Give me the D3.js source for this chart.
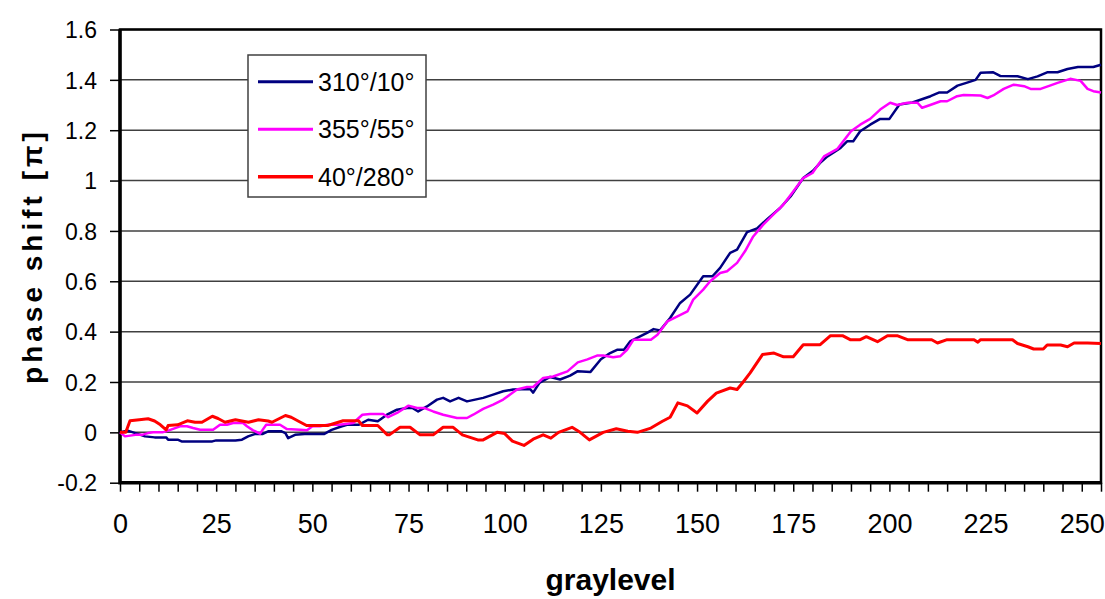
<!DOCTYPE html>
<html>
<head>
<meta charset="utf-8">
<script src="https://cdn.jsdelivr.net/npm/d3@7"></script>
<style>
    body { margin: 0; background: #fff; }
    #chart text { font-family: "Liberation Sans", Arial, sans-serif; fill: #000; }
</style>
</head>
<body>
<div id="chart"></div>
<script>

// graylevel / phase shift [pi] pairs
const series310 = [
    [0, 0], [2, 0.007], [4, -0.003], [6.5, -0.016], [9, -0.02], [12, -0.02], [12.5, -0.029], [15, -0.029],
    [16, -0.036], [24, -0.036], [25, -0.032], [30, -0.032], [31.7, -0.029], [33.3, -0.016], [35, -0.007],
    [37, -0.007], [38.5, 0.004], [42, 0.004], [43, -0.003], [43.7, -0.023], [45.5, -0.01], [48, -0.007],
    [53, -0.007], [55, 0.01], [57.7, 0.024], [59, 0.03], [62, 0.03], [64.5, 0.05], [67, 0.044], [69.4, 0.07],
    [72, 0.09], [74.6, 0.097], [76, 0.097], [77.5, 0.083], [79.8, 0.103], [82.4, 0.13], [84, 0.137],
    [85.8, 0.123], [88, 0.137], [90.2, 0.123], [92.3, 0.13], [94.4, 0.137], [97, 0.15], [99.6, 0.163],
    [102.2, 0.17], [106.6, 0.172], [107.4, 0.158], [109, 0.196], [111.8, 0.22], [114.4, 0.21], [117, 0.225],
    [119, 0.243], [122.3, 0.24], [125, 0.29], [127.4, 0.315], [129.2, 0.328], [131, 0.328], [132.6, 0.361],
    [133.5, 0.368], [137, 0.395], [138.7, 0.41], [140.4, 0.405], [143, 0.454], [145.6, 0.514], [148.2, 0.547],
    [151.6, 0.62], [154, 0.62], [156, 0.653], [158.6, 0.713], [160.4, 0.726], [163, 0.795], [165.6, 0.81],
    [168.3, 0.848], [171.6, 0.891], [174.3, 0.937], [177.6, 1.01], [180.2, 1.04], [182, 1.07], [183.9, 1.096],
    [187.3, 1.13], [189, 1.156], [190.6, 1.156], [192.4, 1.196], [195, 1.222], [197.6, 1.245], [200, 1.245],
    [202.6, 1.302], [206, 1.31], [210.7, 1.335], [213, 1.35], [215, 1.35], [217.7, 1.377], [220, 1.388],
    [222.4, 1.4], [223.7, 1.428], [227, 1.43], [228.9, 1.415], [233.3, 1.414], [236, 1.403], [238.5, 1.414],
    [241, 1.43], [243.7, 1.43], [246.3, 1.443], [249, 1.451], [253, 1.451], [255, 1.46]
];

const series355 = [
    [0, 0], [1.3, -0.016], [4, -0.01], [5.7, -0.01], [7.3, -0.003], [8.6, 0], [11, 0], [12, 0.004],
    [15.6, 0.024], [17.4, 0.024], [19, 0.017], [20.8, 0.01], [24.2, 0.01], [26, 0.03], [27.8, 0.03],
    [29.4, 0.037], [32, 0.037], [33, 0.024], [34.6, 0.008], [36.4, -0.005], [38, 0.03], [41.6, 0.03],
    [43.4, 0.013], [46.8, 0.01], [48.6, 0.008], [50, 0.024], [52, 0.024], [54, 0.03], [57, 0.03],
    [60.6, 0.037], [63, 0.07], [65, 0.073], [68.4, 0.073], [69.7, 0.06], [72, 0.077], [75, 0.106],
    [77.2, 0.097], [79, 0.097], [81.4, 0.083], [84, 0.07], [87.6, 0.057], [90.2, 0.057], [91.8, 0.07],
    [94.4, 0.093], [97, 0.11], [99.6, 0.13], [101.4, 0.15], [103.2, 0.17], [105.8, 0.18], [107.4, 0.18],
    [110, 0.216], [112.6, 0.222], [116.3, 0.242], [119, 0.278], [121.5, 0.29], [124, 0.305], [125.6, 0.305],
    [128.2, 0.298], [130, 0.302], [131.8, 0.328], [133.5, 0.368], [138, 0.368], [139.7, 0.388], [142.3, 0.441],
    [144.9, 0.461], [147.5, 0.48], [149, 0.527], [151.6, 0.567], [153.4, 0.6], [156, 0.633], [157.8, 0.64],
    [160.4, 0.673], [162.5, 0.72], [164.6, 0.778], [167.2, 0.825], [169.8, 0.865], [172.4, 0.904], [175, 0.957],
    [177.6, 1.01], [180, 1.03], [183, 1.096], [186.5, 1.126], [190, 1.196], [192.4, 1.222], [195, 1.245],
    [197.6, 1.282], [200.2, 1.309], [202, 1.3], [204.7, 1.309], [207.3, 1.309], [208.5, 1.289], [210.6, 1.3],
    [213.3, 1.315], [215, 1.315], [217.6, 1.335], [219.3, 1.34], [223.7, 1.338], [225.5, 1.328], [227, 1.338],
    [229.7, 1.364], [232.3, 1.381], [235, 1.375], [236.7, 1.364], [239.3, 1.364], [241.9, 1.378], [243.7, 1.388],
    [247, 1.404], [249.7, 1.396], [251.5, 1.364], [253, 1.355], [255, 1.35]
];

const series40 = [
    [0, 0], [1.5, 0], [2.6, 0.046], [5, 0.05], [7.3, 0.054], [9, 0.045], [10.5, 0.03], [12, 0.01],
    [12.5, 0.027], [15, 0.03], [17.5, 0.046], [19.5, 0.04], [21.3, 0.04], [24, 0.064], [25.5, 0.055],
    [27.3, 0.04], [30, 0.05], [33.4, 0.04], [36, 0.05], [38.5, 0.045], [39.5, 0.04], [43, 0.067], [44.5, 0.06],
    [46.3, 0.045], [48.5, 0.027], [54, 0.027], [58, 0.046], [62, 0.046], [63, 0.027], [67, 0.027], [69.5, -0.01],
    [70, -0.01], [72.8, 0.02], [75.4, 0.02], [78, -0.01], [81.4, -0.01], [84, 0.02], [86.6, 0.02], [89, -0.01],
    [93, -0.03], [94.4, -0.03], [98, 0], [100, -0.005], [102, -0.035], [105, -0.052], [107.4, -0.027],
    [110, -0.01], [112, -0.023], [114, 0], [117.5, 0.02], [119.6, 0], [122, -0.03], [125.6, 0], [129, 0.014],
    [132, 0.004], [134.5, 0], [138, 0.017], [141, 0.044], [143, 0.06], [145, 0.117], [147.5, 0.105],
    [150, 0.077], [152.7, 0.123], [155, 0.156], [158.6, 0.176], [160.4, 0.17], [162, 0.2], [163.8, 0.236],
    [167, 0.309], [170, 0.315], [172.5, 0.3], [175, 0.3], [177.6, 0.348], [182, 0.348], [184.7, 0.384],
    [187.8, 0.384], [189.8, 0.368], [192.4, 0.368], [194, 0.38], [196.9, 0.36], [199.5, 0.384], [202, 0.384],
    [204.7, 0.368], [211, 0.368], [212.5, 0.355], [215, 0.368], [222, 0.368], [223, 0.358], [223.7, 0.368],
    [232, 0.368], [233.3, 0.353], [236, 0.34], [237.5, 0.331], [240, 0.331], [241, 0.347], [244.5, 0.347],
    [246.3, 0.34], [248, 0.355], [251.5, 0.355], [255, 0.353]
];

const seriesNames = ["310°/10°", "355°/55°", "40°/280°"];
const seriesColors = ["#000080", "#ff00ff", "#ff0000"];
const seriesWidths = [2.5, 2.5, 3];

const yTicks = [-0.2, 0, 0.2, 0.4, 0.6, 0.8, 1, 1.2, 1.4, 1.6];
const xLabels = [0, 25, 50, 75, 100, 125, 150, 175, 200, 225, 250];

class PhaseChart {

    constructor(data, width = 1105, height = 599) {
        this.data = data;
        this.width = width;
        this.height = height;
        this.plot = { left: 120, right: 1101, top: 29.5, bottom: 482.7 };
    }

    initialize() {

        const p = this.plot;

        const svg = d3.select("#chart")
            .append("svg")
            .attr("width", this.width)
            .attr("height", this.height);

        const x = d3.scaleLinear().domain([0, 255]).range([p.left, p.right]);
        const y = d3.scaleLinear().domain([-0.2, 1.6]).range([p.bottom, p.top]);

        // grid
        svg.append("g")
            .selectAll("line")
            .data(yTicks)
            .enter()
            .append("line")
            .attr("x1", p.left)
            .attr("x2", p.right)
            .attr("y1", d => y(d))
            .attr("y2", d => y(d))
            .attr("stroke", "#404040")
            .attr("stroke-width", 1.5);

        // y axis (plain hyphen for negatives, like the original)
        const yAxis = d3.axisLeft(y)
            .tickValues(yTicks)
            .tickSize(10)
            .tickPadding(13)
            .tickFormat(d => String(+d.toFixed(1)));

        const gy = svg.append("g")
            .attr("transform", `translate(${p.left}, 0)`)
            .call(yAxis);
        gy.select(".domain").remove();
        gy.selectAll(".tick line").attr("stroke", "#000").attr("stroke-width", 1.5);
        gy.selectAll(".tick text")
            .style("font-size", "23px")
            .attr("dy", "0.36em");

        // x axis, minor ticks every 5
        const xAxis = d3.axisBottom(x)
            .tickValues(d3.range(0, 256, 5))
            .tickSize(9)
            .tickPadding(22)
            .tickFormat(d => xLabels.includes(d) ? d : "");

        const gx = svg.append("g")
            .attr("transform", `translate(0, ${p.bottom})`)
            .call(xAxis);
        gx.select(".domain").remove();
        gx.selectAll(".tick line").attr("stroke", "#000").attr("stroke-width", 1.5);
        gx.selectAll(".tick text")
            .style("font-size", "27px");

        // plot frame
        svg.append("rect")
            .attr("x", p.left)
            .attr("y", p.top)
            .attr("width", p.right - p.left)
            .attr("height", p.bottom - p.top)
            .attr("fill", "none")
            .attr("stroke", "#000")
            .attr("stroke-width", 2.5);

        svg.append("path")
            .attr("d", `M${p.left},${p.top}V${p.bottom}H${p.right}`)
            .attr("fill", "none")
            .attr("stroke", "#000")
            .attr("stroke-width", 3.5);

        // lines
        const line = d3.line()
            .x(d => x(d[0]))
            .y(d => y(d[1]));

        svg.append("g")
            .selectAll("path")
            .data(this.data)
            .enter()
            .append("path")
            .attr("d", d => line(d))
            .attr("fill", "none")
            .attr("stroke", (d, i) => seriesColors[i])
            .attr("stroke-width", (d, i) => seriesWidths[i])
            .attr("stroke-linejoin", "round");

        // axis titles
        svg.append("text")
            .attr("transform", `translate(42, ${(p.top + p.bottom) / 2}) rotate(-90)`)
            .attr("text-anchor", "middle")
            .style("font-size", "28px")
            .style("font-weight", "bold")
            .style("letter-spacing", "4px")
            .text("phase shift [π]");

        svg.append("text")
            .attr("x", (p.left + p.right) / 2)
            .attr("y", 590)
            .attr("text-anchor", "middle")
            .style("font-size", "30px")
            .style("font-weight", "bold")
            .text("graylevel");

        // legend
        const legend = svg.append("g")
            .attr("transform", "translate(248, 55)");

        legend.append("rect")
            .attr("width", 178)
            .attr("height", 142)
            .attr("fill", "#fff")
            .attr("stroke", "#404040")
            .attr("stroke-width", 1.5);

        const rows = legend.selectAll(".row")
            .data(seriesNames)
            .enter()
            .append("g")
            .attr("class", "row")
            .attr("transform", (d, i) => `translate(0, ${26.7 + i * 47.5})`);

        rows.append("line")
            .attr("x1", 10)
            .attr("x2", 65)
            .attr("stroke", (d, i) => seriesColors[i])
            .attr("stroke-width", (d, i) => seriesWidths[i] + 0.5);

        rows.append("text")
            .attr("x", 70)
            .attr("dy", "0.36em")
            .style("font-size", "25px")
            .text(d => d);
    }
}

const chart = new PhaseChart([series310, series355, series40]);
chart.initialize();

</script>
</body>
</html>
